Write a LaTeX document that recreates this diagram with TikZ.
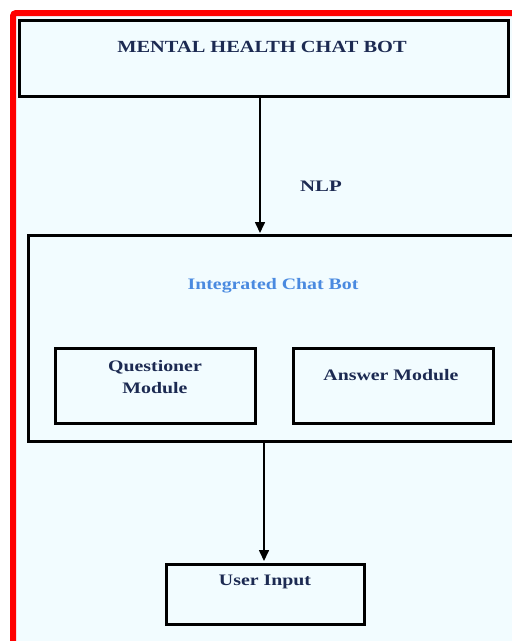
\documentclass[tikz,border=0pt]{standalone}
\usepackage{fontspec}
\usepackage{graphicx}
\setmainfont{Liberation Serif}
\usetikzlibrary{arrows.meta}
\definecolor{bgc}{HTML}{F2FCFF}
\definecolor{txt}{HTML}{1C2A52}
\definecolor{blu}{HTML}{4A8AE0}
\newcommand{\hstr}[1]{\scalebox{1.24}[1]{#1}}
\tikzset{
  box/.style={draw=black, line width=3pt},
  lbl/.style={font=\bfseries\fontsize{16}{20}\selectfont, text=txt, align=center},
  conn/.style={draw=black, line width=1.6pt, -{Triangle[length=11pt,width=10pt]}}
}
\begin{document}
\begin{tikzpicture}[x=1pt,y=-1pt]
\useasboundingbox (0,0) rectangle (512,641);
\clip (0,0) rectangle (512,641);
\fill[white] (0,0) rectangle (512,641);
\fill[bgc] (13,13) rectangle (512,641);
\draw[red, line width=6pt, rounded corners=3pt] (13,645) -- (13,13) -- (516,13);
% top box
\node[box, minimum width=489pt, minimum height=76pt, anchor=north west] (top) at (18,19) {};
\node[lbl, font=\bfseries\fontsize{17}{20}\selectfont] (toptxt) at (262,47) {\scalebox{1.2}[1]{MENTAL HEALTH CHAT BOT}};
% integrated box
\node[box, minimum width=500pt, minimum height=206pt, anchor=north west] (integ) at (27,234) {};
\node[lbl, text=blu] (integtxt) at (273,286) {\hstr{Integrated Chat Bot}};
\node[box, minimum width=200pt, minimum height=75pt, anchor=north west] (q) at (54,347) {};
\node[lbl] (qtxt) at (155,377) {\hstr{Questioner}\\[2pt]\hstr{Module}};
\node[lbl] (atxt) at (391,375) {\hstr{Answer Module}};
\node[box, minimum width=200pt, minimum height=75pt, anchor=north west] (a) at (292,347) {};
% user input
\node[box, minimum width=198pt, minimum height=60pt, anchor=north west] (u) at (165,563) {};
\node[lbl] (utxt) at (265,582) {\hstr{User Input}};
% arrows
\coordinate (a1s) at (260,95);
\coordinate (a1e) at (260,233);
\draw[conn] (a1s) -- (a1e);
\node[lbl] (nlp) at (321,186) {\scalebox{1.3}[1]{NLP}};
\coordinate (a2s) at (264,441);
\coordinate (a2e) at (264,561);
\draw[conn] (a2s) -- (a2e);
\end{tikzpicture}
\end{document}
